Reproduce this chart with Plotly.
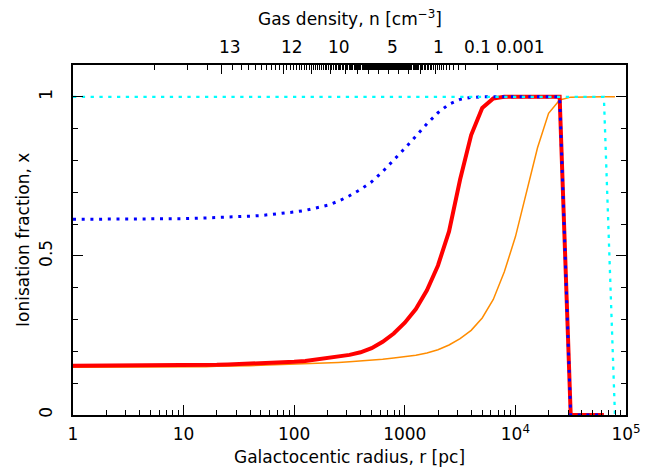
import numpy as np
import plotly.graph_objects as go

# ---------------- data ----------------
# sample grid in log10(r / pc)
log_r = [0.0, 0.1, 0.2, 0.3, 0.4, 0.5, 0.6, 0.7, 0.8, 0.9,
         1.0, 1.1, 1.2, 1.3, 1.4, 1.5, 1.6, 1.7, 1.8, 1.9,
         2.0, 2.1, 2.2, 2.3, 2.4, 2.5, 2.6, 2.7, 2.8, 2.9,
         3.0, 3.1, 3.2, 3.3, 3.4, 3.5, 3.6, 3.7, 3.8, 3.9,
         4.0, 4.1, 4.2, 4.3, 4.4, 4.5, 4.6, 4.7, 4.8, 4.9]

x_red = [0.155, 0.155, 0.155, 0.155, 0.155, 0.156, 0.156, 0.156, 0.156, 0.157,
         0.157, 0.157, 0.158, 0.158, 0.159, 0.160, 0.161, 0.162, 0.164, 0.166,
         0.167, 0.170, 0.174, 0.178, 0.183, 0.189, 0.197, 0.210, 0.230, 0.256,
         0.290, 0.333, 0.392, 0.470, 0.577, 0.740, 0.880, 0.965, 0.995, 1.0,
         1.0, 1.0, 1.0, 1.0, 1.0, 0.0, 0.0, 0.0, 0.0]

x_blue = [0.615, 0.615, 0.615, 0.615, 0.616, 0.616, 0.616, 0.616, 0.617, 0.617,
          0.617, 0.618, 0.619, 0.620, 0.621, 0.623, 0.625, 0.627, 0.630, 0.634,
          0.638, 0.643, 0.650, 0.659, 0.672, 0.689, 0.709, 0.733, 0.765, 0.800,
          0.838, 0.876, 0.915, 0.950, 0.977, 0.992, 0.998, 1.0, 1.0, 1.0,
          1.0, 1.0, 1.0, 1.0, 1.0, 0.0, 0.0, 0.0, 0.0]

x_orange = [0.150, 0.150, 0.150, 0.150, 0.150, 0.150, 0.151, 0.151, 0.151, 0.151,
            0.151, 0.152, 0.152, 0.153, 0.153, 0.154, 0.155, 0.156, 0.157, 0.158,
            0.159, 0.160, 0.161, 0.163, 0.165, 0.167, 0.169, 0.172, 0.175, 0.179,
            0.183, 0.188, 0.195, 0.205, 0.220, 0.240, 0.266, 0.305, 0.363, 0.450,
            0.560, 0.700, 0.840, 0.948, 0.990, 0.999, 1.0, 1.0, 1.0, 1.0]

x_cyan = [1.0] * 49 + [0.0]

# bottom axis ticks
r_tickvals = [1, 10, 100, 1000, 1e4, 1e5]
r_ticktext = ["1", "10", "100", "1000", "10<sup>4</sup>", "10<sup>5</sup>"]

# top axis: gas density n(r) = N0 * exp(-r / RS)
N0 = 13.4      # cm^-3
RS = 725.0     # pc
dens_label_vals = [13, 12, 10, 5, 1, 0.1, 0.001]
dens_label_text = ["13", "12", "10", "5", "1", "0.1", "0.001"]
dens_major = [13, 12, 11, 10, 9, 8, 7, 6, 5, 4, 3, 2, 1]
dens_minor = [round(0.1 * k, 1) for k in range(1, 134) if k % 10 != 0] + [0.001]

y_tickvals = [0, 0.5, 1]
y_ticktext = ["0", "0.5", "1"]


def r_of_n(n):
    return RS * np.log(N0 / n)


r_axis = [10 ** v for v in log_r]

FONT = "DejaVu Sans"
FS = 17
fig = go.Figure()

fig.add_trace(go.Scatter(x=r_axis[:len(x_orange)], y=x_orange, mode="lines",
                         line=dict(color="#ff8c00", width=1.5), hoverinfo="skip"))
fig.add_trace(go.Scatter(x=r_axis[:len(x_red)], y=x_red, mode="lines",
                         line=dict(color="#ff0000", width=4), hoverinfo="skip"))
fig.add_trace(go.Scatter(x=r_axis[:len(x_blue)], y=x_blue, mode="lines",
                         line=dict(color="#0000ff", width=3, dash="3px,5.7px"),
                         hoverinfo="skip"))
fig.add_trace(go.Scatter(x=r_axis[:len(x_cyan)], y=x_cyan, mode="lines",
                         line=dict(color="#00ffff", width=2.3, dash="3.3px,5.5px"),
                         hoverinfo="skip"))
# anchor trace for the top (density) axis
fig.add_trace(go.Scatter(x=[1e5], y=[None], xaxis="x2", mode="lines",
                         hoverinfo="skip", showlegend=False))

axis_common = dict(showline=True, linecolor="black", linewidth=1.5,
                   ticks="inside", tickcolor="black", showgrid=False,
                   zeroline=False, automargin=False,
                   tickfont=dict(family=FONT, size=FS, color="black"))

# the page body adds an 8px offset, so the figure is 8px smaller than the window
fig.update_layout(
    width=645, height=462,
    margin=dict(l=65, r=27, t=57, b=55),
    paper_bgcolor="white", plot_bgcolor="white",
    showlegend=False,
    font=dict(family=FONT, size=FS, color="black"),
    xaxis=dict(type="log", range=[0, 5], tickmode="array",
               tickvals=r_tickvals, ticktext=r_ticktext, ticklen=10, tickwidth=1,
               minor=dict(ticks="inside", ticklen=5, tickcolor="black", tickmode="array",
                          tickvals=[k * 10 ** d for d in range(5) for k in range(2, 10)]),
               ticklabelstandoff=3,
               **axis_common),
    xaxis2=dict(type="log", range=[0, 5], overlaying="x", side="top", anchor="y",
                tickmode="array", tickvals=[r_of_n(n) for n in dens_major],
                ticklen=9, tickwidth=1, showticklabels=False,
                minor=dict(ticks="inside", ticklen=5, tickcolor="black", tickmode="array",
                           tickvals=[r_of_n(n) for n in dens_minor]),
                **axis_common),
    yaxis=dict(range=[0, 1.1], tickmode="array", tickvals=y_tickvals,
               ticktext=y_ticktext, tickangle=-90, ticklen=10, tickwidth=1,
               mirror="ticks",
               minor=dict(ticks="inside", ticklen=5, tickcolor="black", dtick=0.1, tick0=0),
               ticklabelstandoff=12,
               **axis_common),
)

for v, t in zip(dens_label_vals, dens_label_text):
    fig.add_annotation(x=np.log10(r_of_n(v)), xref="x", y=1, yref="paper",
                       text=t, showarrow=False, xanchor="left", yanchor="middle",
                       xshift=-4, yshift=18,
                       font=dict(family=FONT, size=FS, color="black"))

fig.add_annotation(x=0.5, xref="paper", y=1, yref="paper", yshift=47,
                   text="Gas density, n [cm<sup>\u22123</sup>]", showarrow=False,
                   xanchor="center", yanchor="middle",
                   font=dict(family=FONT, size=FS, color="black"))

fig.add_annotation(x=0.5, xref="paper", y=0, yref="paper", yshift=-42,
                   text="Galactocentic radius, r [pc]", showarrow=False,
                   xanchor="center", yanchor="middle",
                   font=dict(family=FONT, size=FS, color="black"))

fig.add_annotation(x=0, xref="paper", y=0.5, yref="paper", xshift=-50,
                   text="Ionisation fraction, x", showarrow=False, textangle=-90,
                   xanchor="center", yanchor="middle",
                   font=dict(family=FONT, size=FS, color="black"))

fig.write_html("out.html")
